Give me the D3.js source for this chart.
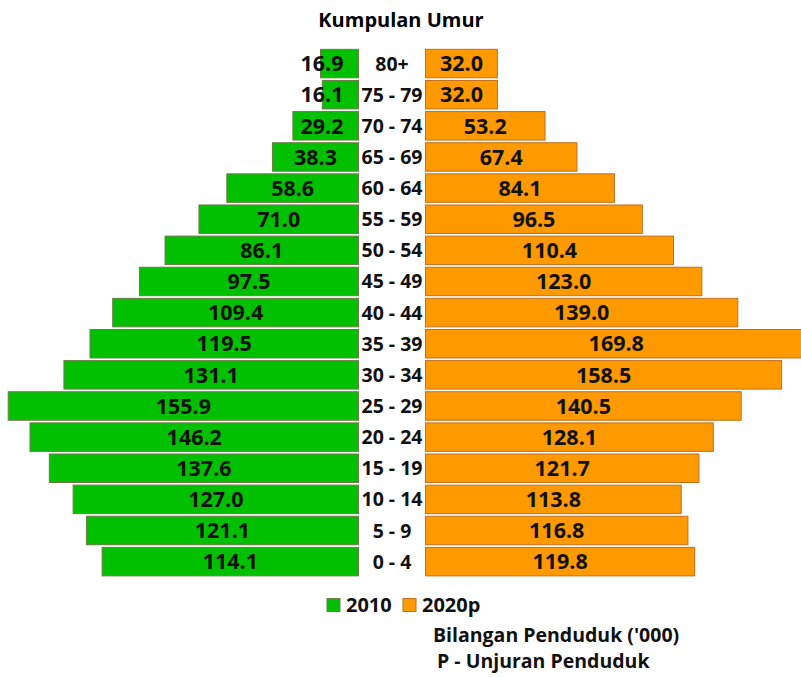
<!DOCTYPE html>
<html>
<head>
<meta charset="utf-8">
<script src="https://cdn.jsdelivr.net/npm/d3@7"></script>
<style>
  body { margin: 0; background: #fff; }
  svg { display: block; font-family: "Open Sans", "Noto Sans", sans-serif; font-weight: 700; }
</style>
</head>
<body>
<div id="chart"></div>
<script>
// age groups, bottom to top
const ages = ["0 - 4", "5 - 9", "10 - 14", "15 - 19", "20 - 24", "25 - 29", "30 - 34", "35 - 39",
  "40 - 44", "45 - 49", "50 - 54", "55 - 59", "60 - 64", "65 - 69", "70 - 74", "75 - 79", "80+"];
const pop2010 = [114.1, 121.1, 127.0, 137.6, 146.2, 155.9, 131.1, 119.5, 109.4, 97.5, 86.1, 71.0, 58.6, 38.3, 29.2, 16.1, 16.9];
const pop2020 = [119.8, 116.8, 113.8, 121.7, 128.1, 140.5, 158.5, 169.8, 139.0, 123.0, 110.4, 96.5, 84.1, 67.4, 53.2, 32.0, 32.0];
const seriesNames = ["2010", "2020p"];

const W = 801, H = 677;
const GREEN = "#00c000", GREEN_LINE = "#6e7a48";
const ORANGE = "#ff9900", ORANGE_LINE = "#c0701e";

const svg = d3.select("#chart").append("svg")
  .attr("width", W).attr("height", H);

const rows = ages.map((a, i) => ({ age: a, v10: pop2010[i], v20: pop2020[i] }));

const y = d3.scaleBand()
  .domain(ages.slice().reverse())
  .range([48, 577.2])
  .paddingInner(0.085)
  .paddingOuter(0.0425);

const xL = d3.scaleLinear().domain([0, 160]).range([358.5, -1]);
const xR = d3.scaleLinear().domain([0, 160]).range([425.5, 785]);

// title
svg.append("text")
  .attr("x", 401).attr("y", 27)
  .attr("text-anchor", "middle")
  .attr("font-size", 20)
  .text("Kumpulan Umur");

// left bars (2010)
svg.selectAll("rect.l").data(rows).join("rect")
  .attr("class", "l")
  .attr("x", d => xL(d.v10))
  .attr("y", d => y(d.age))
  .attr("width", d => xL(0) - xL(d.v10))
  .attr("height", y.bandwidth())
  .attr("fill", GREEN)
  .attr("stroke", GREEN_LINE)
  .attr("stroke-width", 1);

// right bars (2020p)
svg.selectAll("rect.r").data(rows).join("rect")
  .attr("class", "r")
  .attr("x", xR(0))
  .attr("y", d => y(d.age))
  .attr("width", d => xR(d.v20) - xR(0))
  .attr("height", y.bandwidth())
  .attr("fill", ORANGE)
  .attr("stroke", ORANGE_LINE)
  .attr("stroke-width", 1);

// value labels
const lblL = svg.selectAll("text.vl").data(rows).join("text")
  .attr("class", "vl")
  .attr("y", d => y(d.age) + y.bandwidth() / 2)
  .attr("dy", "0.36em")
  .attr("text-anchor", "middle")
  .attr("font-size", 21.5)
  .attr("fill", "#111")
  .text(d => d.v10.toFixed(1));
lblL.attr("x", function(d) {
  const c = (xL(d.v10) + xL(0)) / 2;
  const w = this.getComputedTextLength();
  return Math.min(c, xL(0) - 15 - w / 2);
});

svg.selectAll("text.vr").data(rows).join("text")
  .attr("class", "vr")
  .attr("x", d => (xR(0) + xR(d.v20)) / 2)
  .attr("y", d => y(d.age) + y.bandwidth() / 2)
  .attr("dy", "0.36em")
  .attr("text-anchor", "middle")
  .attr("font-size", 21.5)
  .attr("fill", "#111")
  .text(d => d.v20.toFixed(1));

// age labels
svg.selectAll("text.age").data(rows).join("text")
  .attr("class", "age")
  .attr("x", 392)
  .attr("y", d => y(d.age) + y.bandwidth() / 2)
  .attr("dy", "0.36em")
  .attr("text-anchor", "middle")
  .attr("font-size", 19.5)
  .attr("fill", "#111")
  .text(d => d.age);

// legend
const leg = svg.append("g");
const legX = [327, 403];
[GREEN, ORANGE].forEach((c, i) => {
  leg.append("rect")
    .attr("x", legX[i]).attr("y", 598.5)
    .attr("width", 13).attr("height", 13)
    .attr("fill", c)
    .attr("stroke", i ? ORANGE_LINE : GREEN_LINE);
  leg.append("text")
    .attr("x", legX[i] + 19).attr("y", 612)
    .attr("font-size", 20)
    .attr("fill", "#111")
    .text(seriesNames[i]);
});

svg.append("text")
  .attr("x", 433).attr("y", 642)
  .attr("font-size", 19.5)
  .attr("fill", "#111")
  .text("Bilangan Penduduk ('000)");

svg.append("text")
  .attr("x", 437).attr("y", 668)
  .attr("font-size", 19.5)
  .attr("fill", "#111")
  .text("P - Unjuran Penduduk");
</script>
</body>
</html>
